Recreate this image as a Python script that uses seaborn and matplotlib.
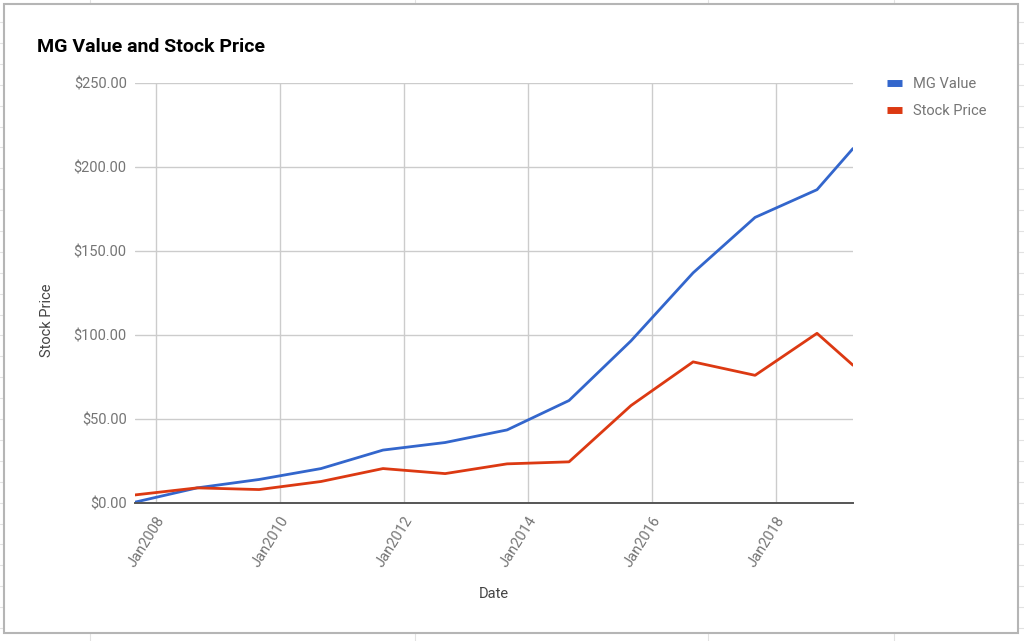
from matplotlib import pyplot as plt
from matplotlib.lines import Line2D
from matplotlib.patches import Rectangle
import matplotlib.dates as mdates
import matplotlib.ticker as mticker
import pandas as pd
import seaborn as sns

dates = ['2007-08-31', '2008-08-31', '2009-08-31', '2010-08-31', '2011-08-31',
         '2012-08-31', '2013-08-31', '2014-08-31', '2015-08-31', '2016-08-31',
         '2017-08-31', '2018-08-31', '2019-03-31']
mg_value = [0.5, 9.0, 14.0, 20.5, 31.5, 36.0, 43.5, 61.0, 96.5, 137.0, 170.0, 186.5, 211.0]
stock_price = [4.8, 9.0, 8.0, 12.8, 20.5, 17.5, 23.3, 24.5, 58.0, 84.0, 76.0, 101.0, 82.0]
series_names = ['MG Value', 'Stock Price']
colors = {'MG Value': '#3366cc', 'Stock Price': '#dc3912'}

df = pd.DataFrame({'Date': pd.to_datetime(dates), 'MG Value': mg_value, 'Stock Price': stock_price})
long_df = df.melt(id_vars='Date', value_vars=series_names, var_name='series', value_name='price')

sns.set_style('white')
plt.rcParams['font.family'] = ['Roboto', 'DejaVu Sans']

W, H = 1024, 641
fig = plt.figure(figsize=(W / 100, H / 100), dpi=100)
fig.patch.set_facecolor('white')

# spreadsheet cells behind the chart
cell = '#e2e2e2'
y = 22.0
while y < H:
    fig.add_artist(Line2D([0, 1], [1 - y / H, 1 - y / H], color=cell, lw=0.8, zorder=-5))
    y += 20.9
for x in [90, 415, 708, 894]:
    fig.add_artist(Line2D([x / W, x / W], [0, 1], color=cell, lw=0.8, zorder=-5))

# chart card
fig.add_artist(Rectangle((4 / W, 1 - 633 / H), (1018 - 4) / W, (633 - 4) / H,
                         facecolor='white', edgecolor='#b5b5b5', lw=1.5, zorder=-4))

ax = fig.add_axes([135 / W, 1 - 503 / H, (853 - 135) / W, (503 - 83) / H])
ax.patch.set_visible(False)

sns.lineplot(data=long_df, x='Date', y='price', hue='series', palette=colors,
             linewidth=2, ax=ax, legend=False)

ax.set_xlim(df['Date'].min(), df['Date'].max())
ax.set_ylim(0, 250)
ax.yaxis.set_major_locator(mticker.MultipleLocator(50))
ax.yaxis.set_major_formatter(mticker.StrMethodFormatter('${x:,.2f}'))
ax.xaxis.set_major_locator(mdates.YearLocator(2))
ax.xaxis.set_major_formatter(mdates.DateFormatter('%b%Y'))

ax.grid(True, color='#cccccc', lw=1)
ax.set_axisbelow(True)
for s in ['top', 'right', 'left']:
    ax.spines[s].set_visible(False)
ax.spines['bottom'].set_color('#555555')
ax.spines['bottom'].set_linewidth(1.4)
ax.spines['bottom'].set_zorder(3)

ax.tick_params(axis='both', length=0, colors='#757575', labelsize=10.5)
ax.tick_params(axis='y', pad=6)
ax.tick_params(axis='x', pad=8)
for lab in ax.get_xticklabels():
    lab.set_rotation(58)
    lab.set_ha('right')
    lab.set_rotation_mode('anchor')

ax.set_xlabel('Date', fontsize=10.5, color='#444444')
ax.set_ylabel('Stock Price', fontsize=10.5, color='#444444')
ax.xaxis.set_label_coords(0.5, -0.2)
ax.yaxis.set_label_coords(-0.113, 0.436)

fig.text(37 / W, 1 - 52 / H, 'MG Value and Stock Price', fontsize=14, fontweight='bold',
         color='#000000', va='baseline', ha='left')

handles = [Line2D([0], [0], color=colors[n], lw=5, solid_capstyle='butt') for n in series_names]
leg = fig.legend(handles, series_names, loc='upper left', bbox_to_anchor=(887 / W, 1 - 77 / H),
                 frameon=False, fontsize=10.5, handlelength=1.0, handletextpad=0.75,
                 labelspacing=0.9, borderaxespad=0, borderpad=0)
for t in leg.get_texts():
    t.set_color('#757575')

plt.savefig('out.png', dpi=100)
